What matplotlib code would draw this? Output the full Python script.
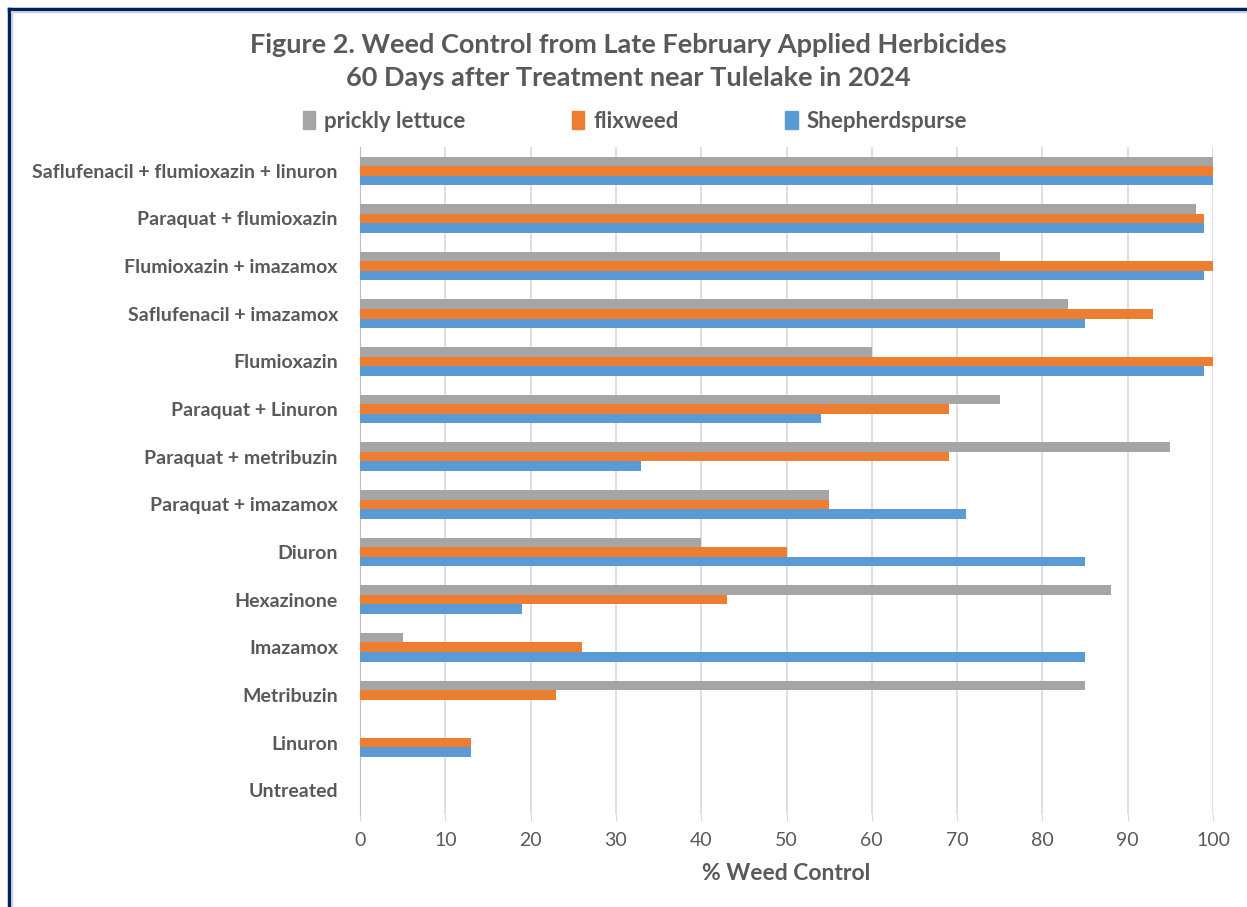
import matplotlib
matplotlib.use("Agg")
import matplotlib.pyplot as plt
import numpy as np
from matplotlib.lines import Line2D
from matplotlib.patches import Patch

plt.rcParams["font.family"] = ["Lato", "DejaVu Sans"]

# ---------------------------------------------------------------------------
# Data (top to bottom as shown)
# ---------------------------------------------------------------------------
treatments = [
    "Saflufenacil + flumioxazin + linuron",
    "Paraquat + flumioxazin",
    "Flumioxazin + imazamox",
    "Saflufenacil + imazamox",
    "Flumioxazin",
    "Paraquat + Linuron",
    "Paraquat + metribuzin",
    "Paraquat + imazamox",
    "Diuron",
    "Hexazinone",
    "Imazamox",
    "Metribuzin",
    "Linuron",
    "Untreated",
]
prickly_lettuce = [100, 98, 75, 83, 60, 75, 95, 55, 40, 88, 5, 85, 0, 0]
flixweed        = [100, 99, 100, 93, 100, 69, 69, 55, 50, 43, 26, 23, 13, 0]
shepherdspurse  = [100, 99, 99, 85, 99, 54, 33, 71, 85, 19, 85, 0, 13, 0]

series_names = ["prickly lettuce", "flixweed", "Shepherdspurse"]
series_vals = [prickly_lettuce, flixweed, shepherdspurse]
series_colors = ["#A5A5A5", "#ED7D31", "#5B9BD5"]

TEXT = "#595959"

fig = plt.figure(figsize=(12.47, 9.07), dpi=100)
fig.patch.set_facecolor("white")
ax = fig.add_axes([360 / 1247, 1 - 814 / 907, 853 / 1247, 667 / 907])

y = np.arange(len(treatments))
h = 0.2
for i, (vals, col) in enumerate(zip(series_vals, series_colors)):
    ax.barh(y + (i - 1) * h, vals, height=h, color=col, linewidth=0, zorder=3)

ax.set_ylim(len(treatments) - 0.5, -0.5)
ax.set_xlim(0, 100)
ax.set_xticks(range(0, 101, 10))
ax.set_yticks(y)
ax.set_yticklabels(treatments, fontsize=14, fontweight="bold", color=TEXT)
ax.tick_params(axis="y", length=0, pad=16)
ax.tick_params(axis="x", length=5, color="#d9d9d9", labelsize=14, labelcolor=TEXT, pad=8)
ax.grid(axis="x", color="#d9d9d9", linewidth=1.2, zorder=0)
for s in ["top", "right", "bottom"]:
    ax.spines[s].set_visible(False)
ax.spines["left"].set_color("#bfbfbf")
ax.set_xlabel("% Weed Control", fontsize=16.5, fontweight="bold", color=TEXT, labelpad=10)

fig.text(628 / 1247, 1 - 45 / 907,
         "Figure 2. Weed Control from Late February Applied Herbicides",
         ha="center", va="center", fontsize=19.5, fontweight="bold", color=TEXT)
fig.text(628 / 1247, 1 - 78 / 907,
         "60 Days after Treatment near Tulelake in 2024",
         ha="center", va="center", fontsize=19.5, fontweight="bold", color=TEXT)

handles = [Patch(color=c, label=n) for n, c in zip(series_names, series_colors)]
fig.legend(handles=handles, loc="center", bbox_to_anchor=(635 / 1247, 1 - 121 / 907),
           ncol=3, frameon=False, prop={"weight": "bold", "size": 16},
           handlelength=0.55, handleheight=0.9, handletextpad=0.4, columnspacing=4.8,
           labelcolor=TEXT)

# frame lines (top and left)
fig.add_artist(Line2D([9 / 1247, 1], [1 - 9 / 907] * 2, color="#002060", lw=2.5))
fig.add_artist(Line2D([9 / 1247] * 2, [0, 1 - 9 / 907], color="#002060", lw=2.5))
fig.add_artist(Line2D([11 / 1247, 1], [1 - 11.5 / 907] * 2, color="#d0d0d0", lw=1))
fig.add_artist(Line2D([11.5 / 1247] * 2, [0, 1 - 11 / 907], color="#d0d0d0", lw=1))

fig.savefig("out.png", dpi=100, facecolor="white")
